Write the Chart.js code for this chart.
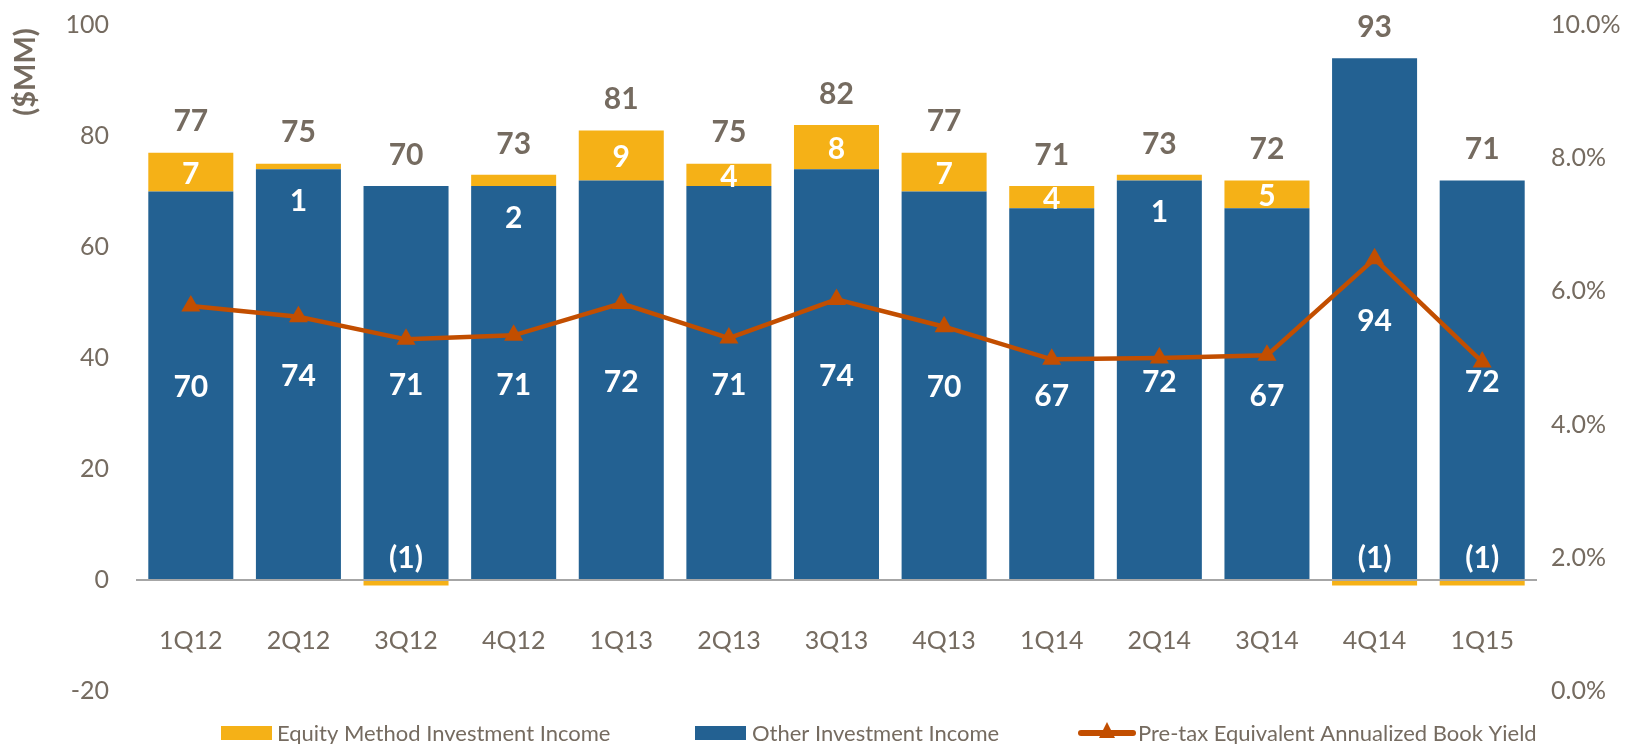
<!DOCTYPE html>
<html>
<head>
<meta charset="utf-8">
<script src="https://cdn.jsdelivr.net/npm/chart.js@4.4.0/dist/chart.umd.min.js"></script>
<style>
  html, body { margin: 0; padding: 0; background: #fff; }
  canvas { display: block; }
</style>
</head>
<body>
<canvas id="incomeChart" width="1648" height="744"></canvas>
<script>
// data
const quarters = ['1Q12', '2Q12', '3Q12', '4Q12', '1Q13', '2Q13', '3Q13', '4Q13', '1Q14', '2Q14', '3Q14', '4Q14', '1Q15'];
const otherIncome = [70, 74, 71, 71, 72, 71, 74, 70, 67, 72, 67, 94, 72];
const equityIncome = [7, 1, -1, 2, 9, 4, 8, 7, 4, 1, 5, -1, -1];
const totalIncome = [77, 75, 70, 73, 81, 75, 82, 77, 71, 73, 72, 93, 71];
const bookYield = [5.78, 5.62, 5.28, 5.34, 5.82, 5.30, 5.88, 5.47, 4.98, 5.00, 5.04, 6.49, 4.94];
const leftTicks = [-20, 0, 20, 40, 60, 80, 100];
const rightTicks = [0, 2, 4, 6, 8, 10];
const seriesNames = ['Equity Method Investment Income', 'Other Investment Income', 'Pre-tax Equivalent Annualized Book Yield'];

const BLUE = '#236192';
const GOLD = '#F5B117';
const RUST = '#C24E00';
const GREY = '#756B60';
const FONT = 'Lato';

// data labels (no datalabels plugin available offline)
const barLabels = {
    id: 'barLabels',
    afterDatasetsDraw(chart) {
        const ctx = chart.ctx;
        const blue = chart.getDatasetMeta(1).data;
        const gold = chart.getDatasetMeta(2).data;
        const zeroPx = chart.scales.y.getPixelForValue(0);
        ctx.save();
        ctx.textAlign = 'center';
        ctx.textBaseline = 'middle';
        ctx.font = `bold 30px ${FONT}`;
        quarters.forEach((q, i) => {
            const b = blue[i], g = gold[i];
            ctx.fillStyle = '#fff';
            ctx.fillText(otherIncome[i], b.x, (b.y + b.base) / 2 + 2);

            const v = equityIncome[i];
            let ey;
            if (v < 0) ey = zeroPx - 22;
            else if (v < 3) ey = b.y + 32;
            else ey = (g.y + g.base) / 2 + 2;
            ctx.fillText(v < 0 ? `(${-v})` : v, g.x, ey);

            const top = v > 0 ? Math.min(g.y, b.y) : b.y;
            ctx.fillStyle = GREY;
            ctx.fillText(totalIncome[i], b.x, top - 31);
        });
        ctx.restore();
    }
};

// unit title + legend along the bottom, drawn by hand
const extras = {
    id: 'extras',
    afterDraw(chart) {
        const ctx = chart.ctx;
        ctx.save();
        // ($MM) rotated title in the top left corner
        ctx.fillStyle = GREY;
        ctx.font = `bold 29px ${FONT}`;
        ctx.textAlign = 'center';
        ctx.textBaseline = 'middle';
        ctx.translate(26, 72);
        ctx.rotate(-Math.PI / 2);
        ctx.fillText('($MM)', 0, 0);
        ctx.setTransform(1, 0, 0, 1, 0, 0);

        const y = 733;
        ctx.font = `22px ${FONT}`;
        ctx.textAlign = 'left';

        ctx.fillStyle = GOLD;
        ctx.fillRect(221, y - 7, 51, 14);
        ctx.fillStyle = BLUE;
        ctx.fillRect(695, y - 7, 51, 14);

        ctx.strokeStyle = RUST;
        ctx.lineWidth = 6;
        ctx.lineCap = 'round';
        ctx.beginPath();
        ctx.moveTo(1081, y);
        ctx.lineTo(1133, y);
        ctx.stroke();
        ctx.fillStyle = RUST;
        ctx.beginPath();
        ctx.moveTo(1107, y - 11);
        ctx.lineTo(1115, y + 5);
        ctx.lineTo(1099, y + 5);
        ctx.closePath();
        ctx.fill();

        ctx.fillStyle = GREY;
        ctx.fillText(seriesNames[0], 277, y + 1);
        ctx.fillText(seriesNames[1], 752, y + 1);
        ctx.fillText(seriesNames[2], 1138, y + 1);
        ctx.restore();
    }
};

new Chart(document.getElementById('incomeChart'), {
    type: 'bar',
    data: {
        labels: quarters,
        datasets: [
            {
                type: 'line',
                label: seriesNames[2],
                data: bookYield,
                yAxisID: 'y1',
                borderColor: RUST,
                backgroundColor: RUST,
                borderWidth: 4.5,
                pointStyle: 'triangle',
                pointRadius: 11,
                pointBorderWidth: 0,
                tension: 0,
                order: 0
            },
            {
                label: seriesNames[1],
                data: otherIncome,
                backgroundColor: BLUE,
                yAxisID: 'y',
                stack: 'inc',
                order: 1
            },
            {
                label: seriesNames[0],
                data: equityIncome,
                backgroundColor: GOLD,
                yAxisID: 'y',
                stack: 'inc',
                order: 1
            }
        ]
    },
    options: {
        responsive: false,
        animation: false,
        devicePixelRatio: 1,
        datasets: { bar: { categoryPercentage: 1, barPercentage: 0.79 } },
        layout: { padding: { top: 25, bottom: 53, left: 0, right: 0 } },
        plugins: { legend: { display: false }, tooltip: { enabled: false } },
        scales: {
            x: {
                position: { y: 0 },
                stacked: true,
                grid: { display: false },
                border: { display: true, color: '#A6A6A6', width: 2, z: 1 },
                ticks: { color: GREY, font: { family: FONT, size: 25 }, padding: 38, maxRotation: 0, autoSkip: false }
            },
            y: {
                position: 'left',
                stacked: true,
                min: -20,
                max: 100,
                afterBuildTicks: s => { s.ticks = leftTicks.map(v => ({ value: v })); },
                afterFit: s => { s.width = 137; s.paddingTop = 15; s.paddingBottom = 15; },
                grid: { display: false },
                border: { display: false },
                ticks: { color: GREY, font: { family: FONT, size: 25 }, padding: 20 }
            },
            y1: {
                position: 'right',
                min: 0,
                max: 10,
                afterBuildTicks: s => { s.ticks = rightTicks.map(v => ({ value: v })); },
                afterFit: s => { s.width = 112; s.paddingTop = 15; s.paddingBottom = 15; },
                grid: { display: false },
                border: { display: false },
                ticks: { color: GREY, font: { family: FONT, size: 25 }, padding: 7, callback: v => v.toFixed(1) + '%' }
            }
        }
    },
    plugins: [barLabels, extras]
});
</script>
</body>
</html>
